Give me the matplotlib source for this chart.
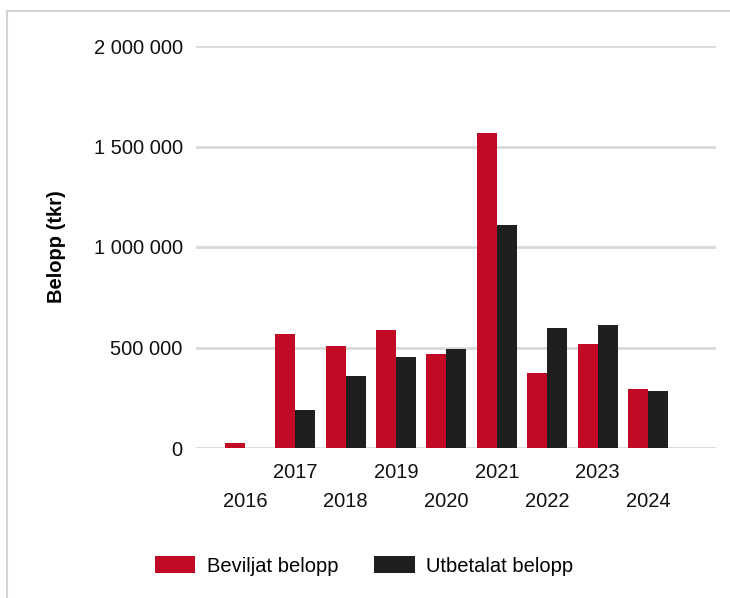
import numpy as np
import matplotlib
matplotlib.use("Agg")
import matplotlib.pyplot as plt
import matplotlib.ticker as tk
from matplotlib.lines import Line2D

plt.rcParams['font.family'] = ['Liberation Sans', 'DejaVu Sans']

#######################
# Data (tkr)
#######################
years = ['2016', '2017', '2018', '2019', '2020', '2021', '2022', '2023', '2024']
beviljat = [23000, 566000, 509000, 585000, 468000, 1566000, 375000, 516000, 292000]
utbetalat = [0, 188000, 358000, 451000, 492000, 1109000, 595000, 610000, 285000]

red = '#c20a25'
black = '#1f1f1f'
grid_col = '#d9d9d9'
fs = 14.5

fig = plt.figure(figsize=(7.3, 5.98), dpi=100)
ax = fig.add_axes([196/730, 1-448/598, (716-196)/730, (448-46)/598])

x = np.arange(len(years))
w = 0.397
ax.bar(x - w/2, beviljat, w, color=red, label='Beviljat belopp', zorder=3)
ax.bar(x + w/2, utbetalat, w, color=black, label='Utbetalat belopp', zorder=3)

ax.set_xlim(-0.972, 9.35)
ax.set_ylim(0, 2000000)
ax.set_yticks([0, 500000, 1000000, 1500000, 2000000])
ax.yaxis.set_major_formatter(tk.FuncFormatter(lambda v, p: '{:,.0f}'.format(v).replace(',', ' ')))
ax.grid(axis='y', color=grid_col, linewidth=2, zorder=0)
ax.set_axisbelow(True)
for s in ax.spines.values():
    s.set_visible(False)

ax.tick_params(axis='y', length=0, pad=9.5, labelsize=fs, labelcolor='#111111')
ax.tick_params(axis='x', length=0, labelsize=fs, labelcolor='#111111')
ax.set_xticks(x)
ax.set_xticklabels(years)
# staggered year labels
for i, t in enumerate(ax.xaxis.get_major_ticks()):
    t.set_pad(10.5 if i % 2 == 1 else 32)

ax.set_ylabel('Belopp (tkr)', fontsize=fs, fontweight='bold')
ax.yaxis.set_label_coords((66-196)/520, 0.5)

fig.legend(loc='center', bbox_to_anchor=(364/730, 1-566/598), ncol=2, frameon=False,
           fontsize=fs, handlelength=2.0, handleheight=0.93, handletextpad=0.55,
           columnspacing=1.8)

# light frame at top and left
fig.add_artist(Line2D([7/730, 7/730], [0, 1-11/598], transform=fig.transFigure, color='#d4d4d4', linewidth=1.5))
fig.add_artist(Line2D([7/730, 1], [1-11/598, 1-11/598], transform=fig.transFigure, color='#d4d4d4', linewidth=1.5))

fig.savefig('out.png', dpi=100)
